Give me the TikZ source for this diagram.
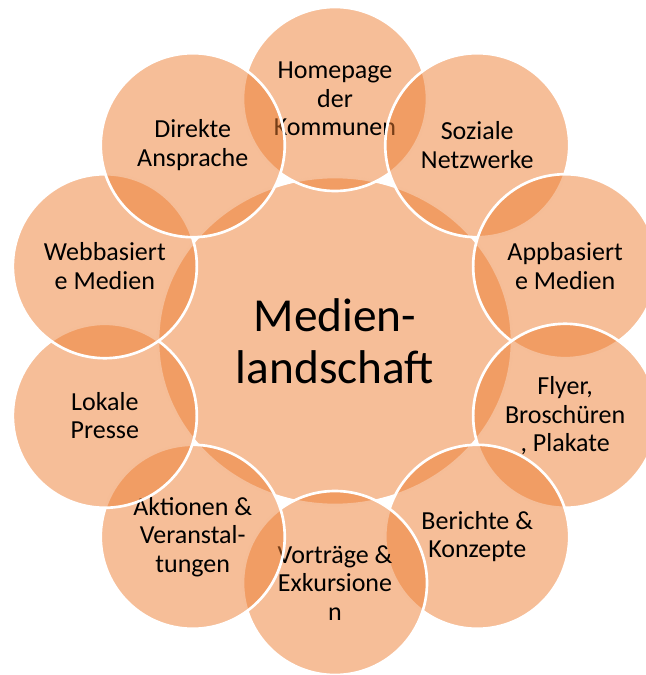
\documentclass[tikz,border=0pt]{standalone}
\usepackage{fontspec}
\setmainfont{Carlito}
\usetikzlibrary{shapes.geometric}
\definecolor{vennorange}{HTML}{ED7D31}

\begin{document}
\begin{tikzpicture}[
  x=0.75pt, y=0.75pt,
  font=\fontsize{19.5pt}{21.4pt}\selectfont,
  venn/.style={circle, fill=vennorange, fill opacity=0.5, text opacity=1, draw=white, line width=2pt, inner sep=0pt, align=center, minimum size=138pt},
  hub/.style={venn, ellipse, minimum width=265.5pt, minimum height=246pt, font=\fontsize{35.5pt}{39pt}\selectfont}
]
\useasboundingbox (-335,-334) rectangle (311,341);
\clip (-335,-334) rectangle (311,341);

% centre first, then the ring clockwise from the top
\node[hub] (mid) at (0,0) {Medien-\\landschaft};
\node[venn] (home) at (90:242) {Homepage\\der\\Kommunen};
\node[venn] (social) at (54:242) {Soziale\\Netzwerke};
\node[venn] (app) at (18:242) {Appbasiert\\e Medien};
\node[venn] (flyer) at (-18:242) {Flyer,\\Broschüren\\, Plakate};
\node[venn] (report) at (-54:242) {Berichte \&\\Konzepte};
\node[venn] (talk) at (-90:242) {Vorträge \&\\Exkursione\\n};
\node[venn] (event) at (-126:242) {Aktionen \&\\Veranstal-\\tungen};
\node[venn] (press) at (-162:242) {Lokale\\Presse};
\node[venn] (web) at (162:242) {Webbasiert\\e Medien};
\node[venn] (direct) at (126:242) {Direkte\\Ansprache};
\end{tikzpicture}
\end{document}
